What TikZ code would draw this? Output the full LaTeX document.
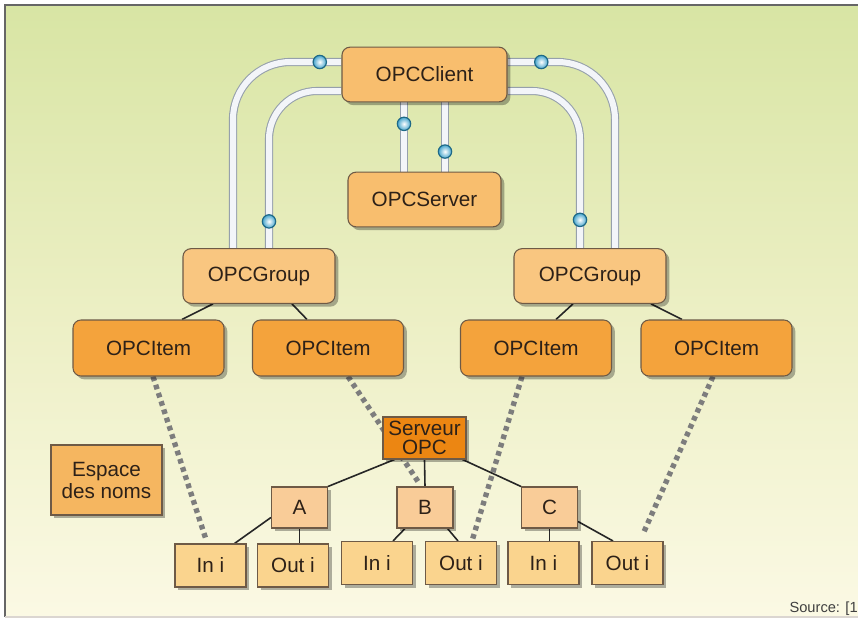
\documentclass[tikz,border=0pt]{standalone}
\usepackage{fontspec}
\setmainfont{Liberation Sans}
\usetikzlibrary{calc,shadows}
\pgfdeclarelayer{back}
\pgfdeclarelayer{mid}
\pgfsetlayers{back,mid,main}
\definecolor{bgtop}{RGB}{216,229,164}
\definecolor{bgmid}{RGB}{236,239,196}
\definecolor{bgbot}{RGB}{251,249,228}
\definecolor{boxline}{RGB}{110,90,70}
\definecolor{txt}{RGB}{45,33,24}
\definecolor{clientfill}{RGB}{248,190,110}
\definecolor{groupfill}{RGB}{249,198,128}
\definecolor{itemfill}{RGB}{244,163,60}
\definecolor{serveurfill}{RGB}{236,134,18}
\definecolor{espacefill}{RGB}{245,182,96}
\definecolor{abcfill}{RGB}{249,204,152}
\definecolor{iofill}{RGB}{250,212,142}
\definecolor{pipeline}{RGB}{150,160,172}
\definecolor{pipefill}{RGB}{243,245,249}
\definecolor{dotfill}{RGB}{70,165,205}
\definecolor{dotline}{RGB}{30,105,135}
\definecolor{linkgrey}{RGB}{125,125,125}
\tikzset{
  box/.style={draw=boxline,line width=0.8pt,text=txt,inner sep=0pt,
    font=\fontsize{15.5}{16}\selectfont,
    drop shadow={shadow xshift=2.5pt,shadow yshift=-2.5pt,fill=black,opacity=0.3}},
  classbox/.style={box,rounded corners=6pt,fill=clientfill,minimum width=114pt,minimum height=41pt},
  itembox/.style={classbox,fill=itemfill,minimum width=113.25pt,minimum height=42pt},
  leafbox/.style={box,fill=abcfill,minimum width=42pt,minimum height=30.75pt},
  iobox/.style={box,fill=iofill,minimum width=53.25pt,minimum height=32.25pt},
  pipe/.style={draw=pipeline,line width=0.8pt,double=pipefill,double distance=4.5pt},
  dotball/.style={circle,minimum size=10pt,inner sep=0pt,draw=dotline,line width=0.9pt,
    inner color=white,outer color=dotfill},
  tree/.style={draw=black!85,line width=1.2pt},
  link/.style={draw=linkgrey,line width=4pt,dash pattern=on 3.5pt off 3pt}
}
\begin{document}
\begin{tikzpicture}[x=0.75pt,y=-0.75pt]
\useasboundingbox (0,0) rectangle (858,621);
\begin{pgfonlayer}{back}
\fill[white] (0,0) rectangle (858,621);
\shade[top color=bgtop,bottom color=bgbot,middle color=bgmid] (5,5) rectangle (858,617);
\draw[black!60,line width=1.5pt] (858,5) -- (5,5) -- (5,617);
\draw[boxline!25,line width=1.5pt] (5,617) -- (858,617);
\end{pgfonlayer}

\node[classbox,minimum width=123.75pt] (client) at (424.5,74.5) {OPCClient};
\node[classbox,minimum width=114.75pt] (server) at (424.5,199.5) {OPCServer};
\node[classbox,fill=groupfill] (groupL) at (259,276) {OPCGroup};
\node[classbox,fill=groupfill] (groupR) at (590,276) {OPCGroup};
\node[itembox] (item1) at (148.5,348) {OPCItem};
\node[itembox] (item2) at (328,348) {OPCItem};
\node[itembox] (item3) at (536,348) {OPCItem};
\node[itembox] (item4) at (716.5,348) {OPCItem};
\node[box,fill=serveurfill,minimum width=62.25pt,minimum height=31.5pt,align=center,
  font=\fontsize{15.5}{14}\selectfont] (serveur) at (424.5,438) {Serveur\\OPC};
\node[box,fill=espacefill,minimum width=83.25pt,minimum height=52.5pt,align=center,
  font=\fontsize{15.5}{16.5}\selectfont] (espace) at (106.5,480) {Espace\\des noms};
\node[leafbox] (A) at (299.5,507.5) {A};
\node[leafbox] (B) at (425,507.5) {B};
\node[leafbox] (C) at (549.5,507.5) {C};
\node[iobox] (inA) at (210.5,565.5) {In i};
\node[iobox] (outA) at (293,565.5) {Out i};
\node[iobox] (inB) at (377,563) {In i};
\node[iobox] (outB) at (461,563) {Out i};
\node[iobox] (inC) at (543.5,563) {In i};
\node[iobox] (outC) at (627.5,563) {Out i};
\node[anchor=east,inner sep=0pt,text=black!75,font=\fontsize{11}{12}\selectfont] (source) at (858,609) {Source: [1};

\begin{pgfonlayer}{mid}
\draw[pipe,rounded corners=43pt] ($(client.west)+(0,-12.5)$) -| ($(groupL.north)+(-26,0)$)
  node[dotball,pos=0.1]{};
\draw[pipe,rounded corners=36pt] ($(client.west)+(0,16.5)$) -| ($(groupL.north)+(10,0)$)
  node[dotball,pos=0.915]{};
\draw[pipe,rounded corners=43pt] ($(client.east)+(0,-12.5)$) -| ($(groupR.north)+(25,0)$)
  node[dotball,pos=0.157]{};
\draw[pipe,rounded corners=36pt] ($(client.east)+(0,16.5)$) -| ($(groupR.north)+(-10,0)$)
  node[dotball,pos=0.91]{};
\draw[pipe] ($(client.south)+(-20.5,0)$) -- ($(server.north)+(-20.5,0)$) node[dotball,pos=0.31]{};
\draw[pipe] ($(client.south)+(20.5,0)$) -- ($(server.north)+(20.5,0)$) node[dotball,pos=0.71]{};

\draw[tree] ($(groupL.south)+(-46,0)$) -- ($(item1.north)+(33.5,0)$);
\draw[tree] ($(groupL.south)+(33,0)$) -- ($(item2.north)+(-21,0)$);
\draw[tree] ($(groupR.south)+(-17,0)$) -- ($(item3.north)+(20,0)$);
\draw[tree] ($(groupR.south)+(61,0)$) -- ($(item4.north)+(-34.5,0)$);

\draw[link] ($(item1.south)+(4.5,0)$) -- ($(inA.north)+(-4.5,-4)$);
\draw[link] ($(item2.south)+(20,0)$) -- ($(B.north)+(-5,-2)$);
\draw[link] ($(item3.south)+(-14,0)$) -- ($(outB.north)+(11,0)$);
\draw[link] ($(item4.south)+(-3.5,0)$) -- ($(outC.north)+(15.5,-7)$);

\draw[tree] ($(serveur.south west)+(12,0)$) -- (A.north east);
\draw[tree] (serveur.south) -- (B.north);
\draw[tree] ($(serveur.south east)+(-4,0)$) -- (C.north west);
\draw[tree] ($(A.west)+(0,10)$) -- ($(inA.north east)+(-12,0)$);
\draw[tree] (A.south) -- (A.south |- outA.north);
\draw[tree] ($(B.south)+(-20,0)$) -- ($(inB.north)+(16,0)$);
\draw[tree] ($(B.south east)+(-6,0)$) -- ($(outB.north)+(-3,0)$);
\draw[tree] (C.south) -- (C.south |- inC.north);
\draw[tree] ($(C.south east)+(0,-7)$) -- ($(outC.north)+(-14.5,0)$);
\end{pgfonlayer}
\end{tikzpicture}
\end{document}
